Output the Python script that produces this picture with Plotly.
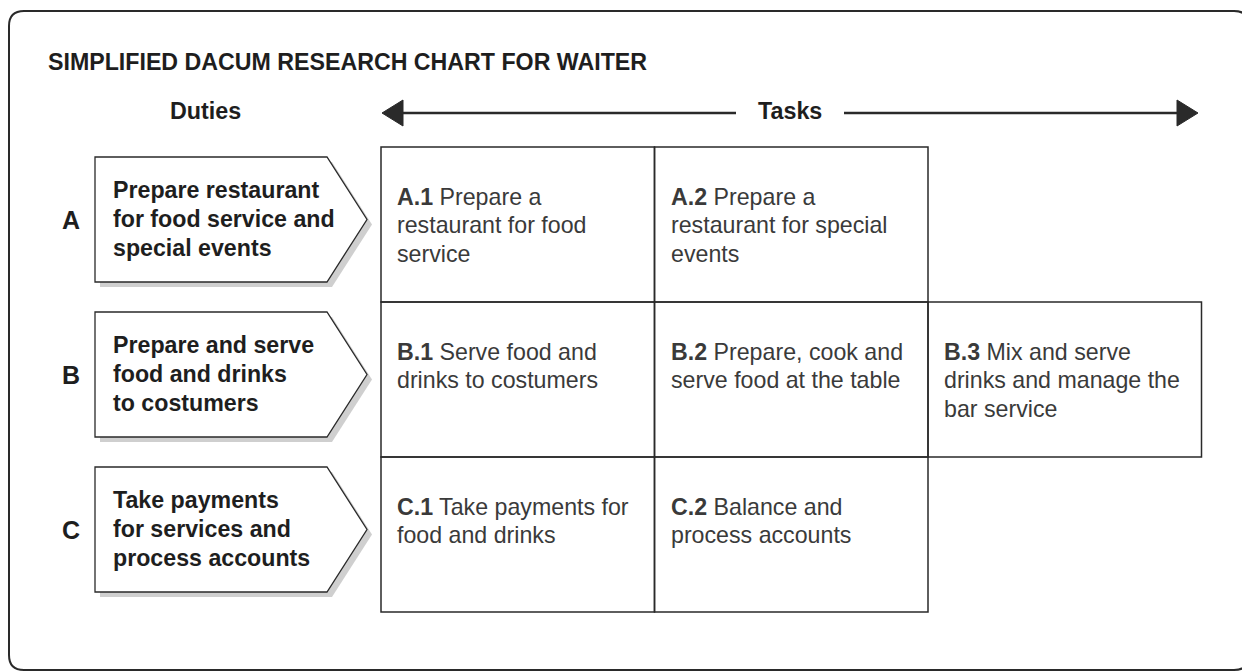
import plotly.graph_objects as go

# ---------------- data ----------------
title_text = "SIMPLIFIED DACUM RESEARCH CHART FOR WAITER"
header_duties = "Duties"
header_tasks = "Tasks"
duty_letters = ["A", "B", "C"]
duty_lines = [
    ["Prepare restaurant", "for food service and", "special events"],
    ["Prepare and serve", "food and drinks", "to costumers"],
    ["Take payments", "for services and", "process accounts"],
]
task_codes = [["A.1", "A.2"], ["B.1", "B.2", "B.3"], ["C.1", "C.2"]]
task_lines = [
    [["Prepare a", "restaurant for food", "service"],
     ["Prepare a", "restaurant for special", "events"]],
    [["Serve food and", "drinks to costumers"],
     ["Prepare, cook and", "serve food at the table"],
     ["Mix and serve", "drinks and manage the", "bar service"]],
    [["Take payments for", "food and drinks"],
     ["Balance and", "process accounts"]],
]

# ---------------- layout constants ----------------
W, H = 1250, 671
OFF = 8  # default body margin of the html page
FONT = "Liberation Sans, Arial, Helvetica, sans-serif"
LINE = "#2a2a2a"
TXT = "#3a3a3a"
BOLD = "#1e1e1e"

GRID_X0, COL_W = 381, 273.5
GRID_Y0, ROW_H = 147, 155
PX0, PX1, PX2 = 95, 327, 367
P_TOP_OFF, P_H = 10, 125
SHADOW = 5

fig = go.Figure()
fig.add_trace(go.Scatter(x=[], y=[], hoverinfo="skip", showlegend=False))

shapes = []
annotations = []

# outer rounded frame
r = 15
x0, y0, x1, y1 = 9, 11, 1249, 670
frame = (f"M {x0+r},{y0} L {x1-r},{y0} Q {x1},{y0} {x1},{y0+r} "
         f"L {x1},{y1-r} Q {x1},{y1} {x1-r},{y1} L {x0+r},{y1} "
         f"Q {x0},{y1} {x0},{y1-r} L {x0},{y0+r} Q {x0},{y0} {x0+r},{y0} Z")
shapes.append(dict(type="path", path=frame, line=dict(color=LINE, width=2),
                   fillcolor="rgba(0,0,0,0)", layer="above"))

# title and headers
annotations.append(dict(x=46, y=62, text=f"<b>{title_text}</b>", xanchor="left",
                        yanchor="middle", showarrow=False,
                        font=dict(family=FONT, size=23.2, color=BOLD)))
annotations.append(dict(x=205.5, y=111, text=f"<b>{header_duties}</b>", xanchor="center",
                        yanchor="middle", showarrow=False,
                        font=dict(family=FONT, size=23.3, color=BOLD)))
annotations.append(dict(x=790, y=111, text=f"<b>{header_tasks}</b>", xanchor="center",
                        yanchor="middle", showarrow=False,
                        font=dict(family=FONT, size=23.3, color=BOLD)))

# tasks arrow
AY = 113
shapes.append(dict(type="line", x0=398, y0=AY, x1=736, y1=AY, line=dict(color=LINE, width=2.5)))
shapes.append(dict(type="line", x0=844, y0=AY, x1=1182, y1=AY, line=dict(color=LINE, width=2.5)))
shapes.append(dict(type="path", path=f"M 382,{AY} L 403,{AY-13} L 403,{AY+13} Z",
                   fillcolor=LINE, line=dict(color=LINE, width=1)))
shapes.append(dict(type="path", path=f"M 1198,{AY} L 1177,{AY-13} L 1177,{AY+13} Z",
                   fillcolor=LINE, line=dict(color=LINE, width=1)))

# duties (pentagons) and tasks (cells)
for i, letter in enumerate(duty_letters):
    top = GRID_Y0 + P_TOP_OFF + i * ROW_H
    bot = top + P_H
    mid = (top + bot) / 2
    s = SHADOW
    shapes.append(dict(type="path",
                       path=f"M {PX0+s},{top+s} L {PX1+s},{top+s} L {PX2+s},{mid+s} "
                            f"L {PX1+s},{bot+s} L {PX0+s},{bot+s} Z",
                       fillcolor="#cfcfcf", line=dict(width=0), layer="below"))
    shapes.append(dict(type="path",
                       path=f"M {PX0},{top} L {PX1},{top} L {PX2},{mid} "
                            f"L {PX1},{bot} L {PX0},{bot} Z",
                       fillcolor="white", line=dict(color=LINE, width=1.3), layer="below"))
    annotations.append(dict(x=71, y=mid, text=f"<b>{letter}</b>", xanchor="center",
                            yanchor="middle", showarrow=False,
                            font=dict(family=FONT, size=25, color=BOLD)))
    for k, ln in enumerate(duty_lines[i]):
        annotations.append(dict(x=111, y=top + 33 + k * 29, text=f"<b>{ln}</b>",
                                xanchor="left", yanchor="middle", showarrow=False,
                                font=dict(family=FONT, size=23.2, color=BOLD)))

    ctop = GRID_Y0 + i * ROW_H
    for j, code in enumerate(task_codes[i]):
        cx0 = GRID_X0 + j * COL_W
        shapes.append(dict(type="rect", x0=cx0, y0=ctop, x1=cx0 + COL_W, y1=ctop + ROW_H,
                           line=dict(color=LINE, width=1.5), fillcolor="rgba(0,0,0,0)"))
        for k, ln in enumerate(task_lines[i][j]):
            txt = f"<b>{code}</b> {ln}" if k == 0 else ln
            annotations.append(dict(x=cx0 + 14, y=ctop + 49.5 + k * 28.5, text=txt,
                                    xanchor="left", yanchor="middle", showarrow=False,
                                    font=dict(family=FONT, size=23.2, color=TXT)))

fig.update_layout(
    width=W - OFF, height=H - OFF,
    margin=dict(l=0, r=0, t=0, b=0, pad=0),
    paper_bgcolor="white", plot_bgcolor="white",
    xaxis=dict(range=[OFF, W], visible=False, fixedrange=True),
    yaxis=dict(range=[H, OFF], visible=False, fixedrange=True),
    shapes=shapes, annotations=annotations, showlegend=False,
)

fig.write_html("out.html", config={"displayModeBar": False})
